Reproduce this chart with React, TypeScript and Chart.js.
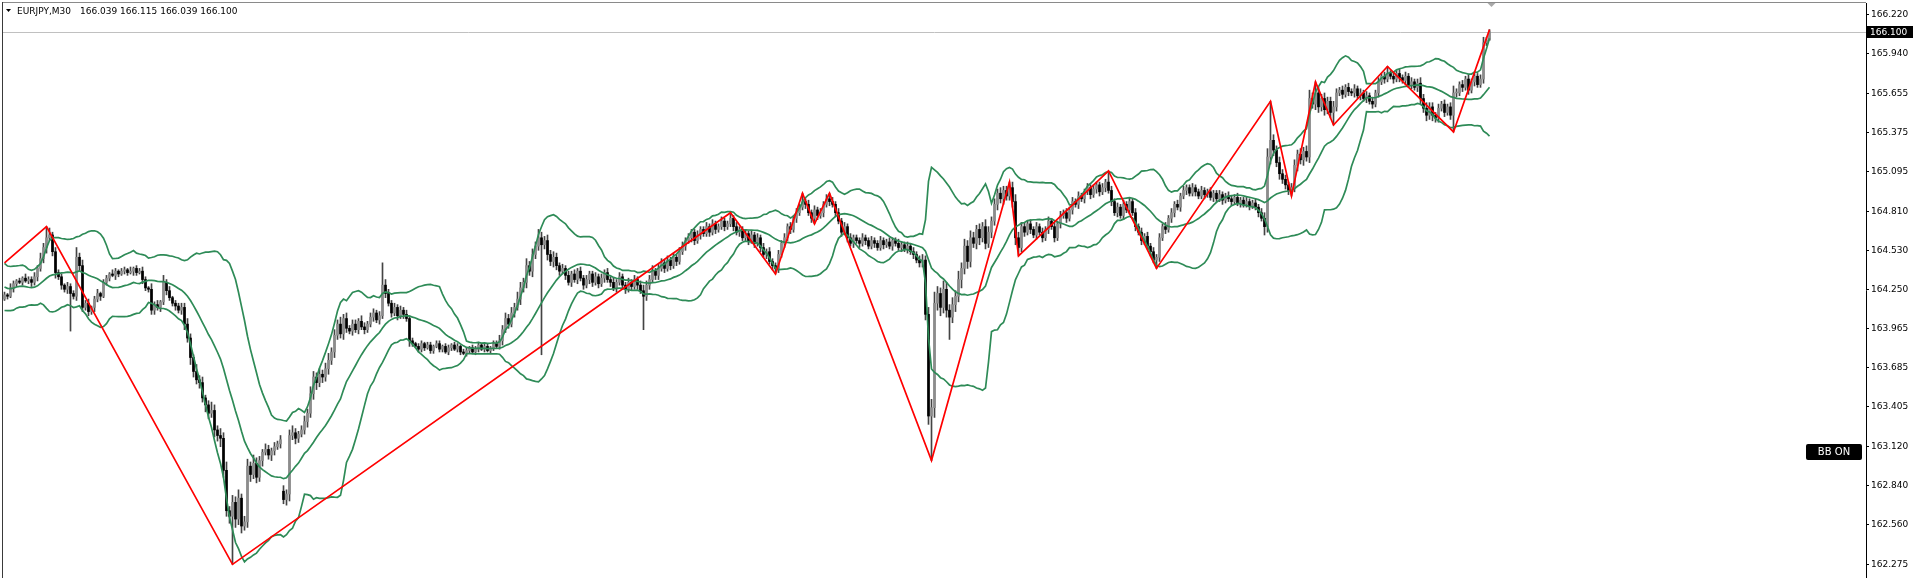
import { useEffect, useRef } from "react";
import { Chart, registerables } from "chart.js";

Chart.register(...registerables);

// ---------------- data ----------------
const SYMBOL = "EURJPY,M30";
const OHLC_TEXT = "166.039 166.115 166.039 166.100";
const LAST_PRICE = 166.1;
const BB_LABEL = "BB ON";

// closes before the first visible bar (only used for the Bollinger warm-up)
const HISTORY_CLOSES = [
  164.35, 164.4, 164.3, 164.22, 164.15, 164.2, 164.3, 164.38, 164.42, 164.35,
  164.28, 164.2, 164.12, 164.18, 164.25, 164.32, 164.36, 164.3, 164.22, 164.18,
];

// visible M30 closes, bar 0 .. 495
const CLOSES = [
  164.21, 164.2, 164.26, 164.29, 164.31, 164.3, 164.33, 164.31, 164.32, 164.3,
  164.34, 164.4, 164.47, 164.55, 164.62, 164.64, 164.52, 164.37, 164.34, 164.28,
  164.25, 164.27, 164.22, 164.2, 164.48, 164.42, 164.12, 164.15, 164.09, 164.12,
  164.18, 164.22, 164.2, 164.3, 164.33, 164.36, 164.35, 164.38, 164.36, 164.38,
  164.39, 164.37, 164.38, 164.4, 164.37, 164.38, 164.32, 164.26, 164.25, 164.1,
  164.14, 164.12, 164.16, 164.3, 164.24, 164.19, 164.15, 164.13, 164.1, 164.12,
  164.0, 163.9, 163.76, 163.66, 163.6, 163.58, 163.47, 163.42, 163.36, 163.38,
  163.24, 163.2, 163.18, 162.95, 162.66, 162.62, 162.72, 162.6, 162.75, 162.55,
  162.58, 162.98, 162.92, 163.0, 162.9, 163.02, 163.08, 163.1, 163.06, 163.09,
  163.12, 163.14, 163.17, 162.74, 162.78, 163.2, 163.22, 163.18, 163.21, 163.24,
  163.3, 163.36, 163.5, 163.62, 163.58, 163.64, 163.62, 163.68, 163.74, 163.8,
  163.92, 164.0, 163.93, 164.04, 163.97, 163.95, 164.0, 163.96, 164.02, 163.98,
  163.96, 164.0, 164.05, 164.08, 164.03, 164.06, 164.28, 164.22, 164.15, 164.08,
  164.12, 164.06, 164.1, 164.07, 164.04, 163.88, 163.86, 163.84, 163.82, 163.86,
  163.83, 163.85, 163.81, 163.84, 163.86, 163.82, 163.84, 163.8, 163.83, 163.85,
  163.82, 163.84, 163.8, 163.79, 163.81, 163.83, 163.8, 163.82, 163.85, 163.82,
  163.84, 163.81, 163.83, 163.86, 163.84, 163.88, 163.96, 164.04, 164.0, 164.08,
  164.12, 164.18, 164.26, 164.3, 164.42, 164.38, 164.5, 164.56, 164.62, 164.57,
  164.6, 164.5, 164.45, 164.48, 164.42, 164.38, 164.4, 164.35, 164.3, 164.36,
  164.32, 164.38, 164.33, 164.28, 164.32, 164.36, 164.3, 164.34, 164.29, 164.33,
  164.37, 164.32, 164.3, 164.26, 164.3, 164.34, 164.28, 164.25, 164.3, 164.27,
  164.32, 164.28, 164.24, 164.2, 164.28, 164.32, 164.38, 164.35, 164.4, 164.44,
  164.4, 164.46, 164.42, 164.48, 164.45, 164.52, 164.56, 164.6, 164.62, 164.66,
  164.6, 164.64, 164.68, 164.65, 164.7, 164.66, 164.72, 164.68, 164.7, 164.74,
  164.7, 164.72, 164.76, 164.7, 164.66, 164.68, 164.62, 164.65, 164.6, 164.64,
  164.58, 164.62, 164.55, 164.5, 164.52, 164.45, 164.42, 164.4, 164.5, 164.58,
  164.62, 164.7, 164.68, 164.76, 164.8, 164.84, 164.88, 164.86, 164.8, 164.76,
  164.82, 164.78, 164.8, 164.86, 164.9, 164.88, 164.86, 164.8, 164.74, 164.66,
  164.7, 164.62, 164.58, 164.62, 164.6, 164.58, 164.62, 164.6, 164.56, 164.6,
  164.58, 164.55, 164.6, 164.57, 164.59, 164.56, 164.6, 164.58, 164.55, 164.57,
  164.54, 164.56, 164.52, 164.5, 164.46, 164.44, 164.46, 164.07, 163.34, 163.4,
  164.15, 164.22, 164.12, 164.25, 164.1, 164.05, 164.14, 164.2, 164.32, 164.4,
  164.56, 164.45, 164.62, 164.58, 164.68, 164.62, 164.7, 164.58, 164.66, 164.74,
  164.86, 164.94, 164.9, 164.96, 164.92, 164.98, 164.88, 164.62, 164.55, 164.7,
  164.66, 164.72, 164.68, 164.64, 164.7, 164.66, 164.62, 164.68, 164.74, 164.7,
  164.62, 164.72, 164.78, 164.8, 164.76, 164.82, 164.88, 164.86, 164.92, 164.9,
  164.95, 164.98, 164.93, 164.97, 165.0, 164.95, 164.98, 165.02, 164.96, 164.88,
  164.8, 164.84, 164.78, 164.86, 164.82, 164.88, 164.8, 164.7, 164.66, 164.6,
  164.63, 164.56, 164.52, 164.46, 164.48, 164.62, 164.7, 164.68, 164.76, 164.8,
  164.86, 164.84, 164.92, 164.96, 164.98, 164.94, 164.98, 164.95, 164.92, 164.96,
  164.93, 164.95, 164.91, 164.94, 164.9, 164.93, 164.89, 164.92, 164.9, 164.88,
  164.91, 164.87, 164.89, 164.86, 164.88, 164.85, 164.87, 164.84, 164.8, 164.76,
  164.7, 165.2, 165.32, 165.25, 165.16, 165.08, 165.04, 165.0, 164.96, 164.98,
  165.14, 165.22, 165.18, 165.24, 165.2, 165.62, 165.58, 165.66, 165.56, 165.62,
  165.54, 165.6, 165.52, 165.56, 165.66, 165.68, 165.65, 165.7, 165.67, 165.66,
  165.69, 165.64, 165.66, 165.62, 165.64, 165.6, 165.58, 165.66, 165.74, 165.78,
  165.76, 165.8, 165.78, 165.76, 165.8, 165.77, 165.75, 165.78, 165.72, 165.74,
  165.7, 165.73, 165.62, 165.55, 165.5, 165.56, 165.5, 165.48, 165.55, 165.58,
  165.52, 165.56, 165.5, 165.66, 165.66, 165.72, 165.7, 165.76, 165.68, 165.74,
  165.78, 165.72, 165.76, 166.02, 166.04, 166.1,
];

// upper / lower shadow length of each bar, in 0.01
const WICK_HI = [
  2, 1, 3, 2, 1, 2, 1, 3, 2, 2, 3, 2, 4, 3, 0, 5, 2, 3, 2, 2,
  1, 3, 2, 2, 7, 3, 4, 2, 3, 1, 2, 3, 1, 2, 2, 1, 3, 2, 1, 2,
  2, 1, 3, 1, 2, 2, 3, 2, 1, 4, 2, 3, 1, 5, 2, 3, 1, 2, 2, 3,
  3, 4, 3, 2, 5, 3, 4, 2, 3, 6, 4, 3, 5, 4, 6, 3, 5, 4, 6, 3,
  4, 5, 3, 6, 4, 3, 2, 4, 3, 2, 3, 2, 3, 4, 3, 4, 5, 3, 2, 3,
  4, 3, 5, 4, 3, 4, 3, 4, 5, 3, 4, 3, 5, 3, 4, 2, 3, 3, 2, 4,
  3, 2, 3, 3, 2, 3, 0, 4, 3, 2, 3, 2, 3, 2, 3, 2, 2, 1, 2, 2,
  1, 2, 2, 1, 2, 2, 1, 2, 2, 1, 2, 2, 1, 2, 2, 1, 2, 2, 2, 1,
  2, 2, 1, 2, 2, 4, 3, 4, 3, 4, 3, 5, 4, 3, 5, 3, 4, 3, 6, 4,
  3, 4, 3, 4, 3, 2, 3, 2, 3, 2, 3, 2, 3, 2, 3, 2, 2, 3, 2, 3,
  2, 3, 2, 3, 2, 3, 2, 2, 3, 2, 3, 2, 3, 4, 3, 3, 4, 2, 3, 3,
  2, 3, 2, 3, 2, 3, 3, 2, 3, 2, 2, 3, 2, 2, 3, 2, 3, 2, 2, 3,
  2, 2, 0, 2, 3, 2, 2, 3, 2, 3, 2, 3, 2, 3, 2, 3, 2, 2, 3, 2,
  3, 2, 3, 2, 3, 2, 3, 2, 3, 2, 3, 2, 3, 2, 3, 2, 3, 2, 3, 2,
  3, 2, 3, 2, 2, 2, 3, 2, 2, 3, 2, 2, 3, 2, 2, 3, 2, 2, 3, 2,
  2, 3, 2, 3, 2, 3, 4, 3, 5, 6, 8, 5, 4, 6, 5, 4, 5, 4, 6, 4,
  5, 4, 5, 4, 3, 4, 3, 5, 4, 3, 4, 3, 4, 3, 3, 0, 4, 5, 4, 3,
  3, 2, 3, 2, 3, 2, 3, 2, 3, 2, 3, 2, 3, 2, 3, 2, 3, 2, 3, 2,
  2, 3, 2, 3, 2, 2, 3, 2, 0, 3, 2, 3, 2, 3, 2, 3, 2, 3, 2, 3,
  2, 3, 2, 3, 2, 3, 2, 3, 2, 3, 2, 3, 2, 3, 2, 2, 3, 2, 2, 3,
  2, 2, 3, 2, 2, 3, 2, 2, 3, 2, 2, 3, 2, 2, 3, 2, 2, 3, 2, 3,
  4, 6, 0, 4, 3, 4, 3, 3, 2, 3, 4, 3, 4, 3, 4, 6, 4, 0, 4, 3,
  4, 3, 3, 4, 3, 2, 3, 2, 3, 2, 3, 2, 3, 2, 3, 2, 3, 2, 3, 2,
  3, 0, 2, 3, 2, 3, 2, 3, 2, 3, 2, 3, 4, 3, 4, 3, 3, 2, 3, 2,
  3, 2, 3, 5, 3, 2, 3, 2, 3, 2, 3, 2, 3, 4, 2, 0,
];
const WICK_LO = [
  1, 2, 1, 3, 2, 1, 2, 1, 2, 3, 2, 3, 2, 3, 4, 2, 3, 4, 2, 3,
  2, 3, 0, 2, 3, 4, 3, 2, 3, 2, 3, 2, 3, 1, 2, 2, 1, 3, 2, 1,
  2, 2, 1, 3, 2, 1, 3, 2, 2, 3, 3, 2, 3, 2, 3, 2, 2, 3, 2, 3,
  4, 3, 5, 4, 3, 4, 3, 5, 4, 3, 5, 4, 6, 5, 4, 5, 0, 6, 4, 5,
  3, 4, 5, 3, 4, 3, 4, 2, 3, 4, 3, 2, 3, 3, 4, 5, 3, 4, 3, 2,
  3, 4, 3, 4, 5, 3, 4, 3, 4, 3, 4, 3, 3, 4, 3, 2, 3, 2, 3, 2,
  3, 2, 2, 3, 2, 3, 2, 3, 2, 3, 2, 3, 2, 3, 2, 4, 2, 1, 2, 2,
  2, 1, 2, 2, 1, 2, 2, 1, 2, 2, 1, 2, 2, 1, 2, 2, 1, 2, 2, 1,
  2, 1, 2, 2, 1, 2, 3, 2, 3, 2, 3, 2, 4, 3, 4, 3, 4, 3, 3, 0,
  3, 4, 3, 4, 3, 3, 2, 3, 2, 3, 2, 3, 2, 3, 2, 3, 3, 2, 3, 2,
  3, 2, 3, 2, 3, 2, 3, 3, 2, 3, 2, 3, 2, 0, 3, 3, 2, 3, 3, 2,
  3, 2, 3, 2, 3, 2, 2, 3, 2, 3, 3, 2, 3, 2, 2, 3, 2, 3, 2, 2,
  3, 2, 2, 3, 2, 3, 2, 2, 3, 2, 3, 2, 3, 2, 3, 2, 3, 0, 3, 2,
  3, 2, 3, 2, 3, 2, 2, 3, 2, 3, 2, 3, 2, 3, 2, 3, 2, 3, 2, 3,
  2, 3, 2, 3, 2, 3, 2, 3, 2, 2, 3, 2, 2, 3, 2, 2, 3, 2, 2, 3,
  2, 3, 2, 3, 2, 3, 3, 4, 6, 0, 7, 5, 6, 4, 5, 0, 4, 5, 4, 6,
  4, 5, 4, 3, 4, 5, 3, 4, 3, 4, 3, 4, 3, 4, 3, 3, 4, 5, 0, 3,
  3, 2, 3, 2, 3, 2, 3, 2, 3, 2, 3, 2, 3, 2, 3, 2, 3, 2, 3, 2,
  3, 2, 3, 2, 3, 3, 2, 3, 2, 3, 2, 3, 2, 3, 2, 3, 2, 3, 2, 3,
  3, 2, 3, 2, 0, 3, 2, 3, 2, 3, 3, 2, 3, 2, 3, 2, 2, 3, 2, 2,
  3, 2, 2, 3, 2, 2, 3, 2, 2, 3, 2, 2, 3, 2, 2, 3, 2, 2, 3, 2,
  0, 4, 5, 4, 3, 4, 3, 3, 3, 0, 3, 4, 3, 4, 3, 4, 3, 4, 4, 3,
  4, 3, 4, 0, 3, 2, 3, 2, 3, 2, 3, 2, 3, 2, 3, 2, 3, 2, 3, 2,
  3, 2, 2, 3, 2, 3, 2, 3, 2, 3, 2, 3, 4, 3, 4, 3, 4, 3, 3, 2,
  3, 2, 3, 0, 3, 2, 3, 2, 3, 2, 3, 2, 2, 3, 2, 0,
];

// bar opens that differ from the previous close (weekend gap)
const GAP_BARS = [93];
const GAP_OPENS = [162.8];

// bar extremes that are read directly (swing points / spikes)
const EXT_BARS = [14, 22, 76, 126, 179, 213, 242, 257, 266, 270, 275, 309, 315, 335, 338, 368, 384, 420, 422, 429, 437, 443, 461, 483, 495];
const EXT_HIGH = [164.7, null, null, 164.44, null, null, 164.8, null, 164.94, null, 164.94, null, null, 165.02, null, 165.1, null, null, 165.6, null, 165.74, null, 165.85, null, 166.115];
const EXT_LOW = [null, 163.95, 162.275, null, 163.78, 163.96, null, 164.36, null, 164.72, null, 163.02, 163.89, null, 164.49, null, 164.4, 164.64, null, 164.92, null, 165.43, null, 165.38, 166.039];

// ZigZag swing points
const ZZ_BARS = [0, 14, 76, 242, 257, 266, 270, 275, 309, 335, 338, 368, 384, 422, 429, 437, 443, 461, 483, 495];
const ZZ_PRICES = [164.44, 164.7, 162.275, 164.8, 164.36, 164.94, 164.72, 164.94, 163.02, 165.02, 164.49, 165.1, 164.4, 165.6, 164.92, 165.74, 165.43, 165.85, 165.38, 166.115];

// right price axis labels
const Y_TICKS = [166.22, 165.94, 165.655, 165.375, 165.095, 164.81, 164.53, 164.25, 163.965, 163.685, 163.405, 163.12, 162.84, 162.56, 162.275];

const BB_PERIOD = 20;
const BB_DEV = 2;

// ---------------- build ----------------
function buildSeries() {
  const all = [...HISTORY_CLOSES, ...CLOSES];
  const H = HISTORY_CLOSES.length;
  const wicks: any[] = [];
  const bull: any[] = [];
  const bear: any[] = [];
  for (let i = 0; i < CLOSES.length; i++) {
    const k = i + H;
    const g = GAP_BARS.indexOf(i);
    const open = g >= 0 ? GAP_OPENS[g] : all[k - 1];
    const close = CLOSES[i];
    let hi = Math.max(open, close) + WICK_HI[i] / 100;
    let lo = Math.min(open, close) - WICK_LO[i] / 100;
    const e = EXT_BARS.indexOf(i);
    if (e >= 0) {
      if (EXT_HIGH[e] != null) hi = EXT_HIGH[e] as number;
      if (EXT_LOW[e] != null) lo = EXT_LOW[e] as number;
    }
    wicks.push({ x: i, y: [lo, hi] });
    if (close >= open) bull.push({ x: i, y: [open, close] });
    else bear.push({ x: i, y: [close, open] });
  }
  const up: any[] = [];
  const mid: any[] = [];
  const dn: any[] = [];
  for (let i = 0; i < CLOSES.length; i++) {
    const k = i + H;
    const w = all.slice(k - BB_PERIOD + 1, k + 1);
    const m = w.reduce((a, b) => a + b, 0) / w.length;
    const sd = Math.sqrt(w.reduce((a, b) => a + (b - m) * (b - m), 0) / w.length);
    up.push({ x: i, y: m + BB_DEV * sd });
    mid.push({ x: i, y: m });
    dn.push({ x: i, y: m - BB_DEV * sd });
  }
  const zz = ZZ_BARS.map((b, j) => ({ x: b, y: ZZ_PRICES[j] }));
  return { wicks, bull, bear, up, mid, dn, zz };
}

const FONT = '"DejaVu Sans", "Liberation Sans", sans-serif';

const overlay = {
  id: "mt4overlay",
  beforeDatasetsDraw(chart: any) {
    const { ctx, chartArea, scales } = chart;
    const py = Math.round(scales.y.getPixelForValue(LAST_PRICE)) + 0.5;
    ctx.save();
    ctx.strokeStyle = "#c0c0c0";
    ctx.lineWidth = 1;
    ctx.beginPath();
    ctx.moveTo(chartArea.left, py);
    ctx.lineTo(chartArea.right, py);
    ctx.stroke();
    ctx.restore();
  },
  afterDraw(chart: any) {
    const { ctx, chartArea, scales } = chart;
    ctx.save();
    // window frame
    ctx.strokeStyle = "#8a8a8a";
    ctx.lineWidth = 1;
    ctx.beginPath();
    ctx.moveTo(2, 2.5);
    ctx.lineTo(chartArea.right, 2.5);
    ctx.stroke();
    ctx.strokeStyle = "#3a3a3a";
    ctx.beginPath();
    ctx.moveTo(2.5, 2);
    ctx.lineTo(2.5, 578);
    ctx.stroke();

    // header
    ctx.fillStyle = "#000";
    ctx.beginPath();
    ctx.moveTo(6, 9);
    ctx.lineTo(11, 9);
    ctx.lineTo(8.5, 12);
    ctx.closePath();
    ctx.fill();
    ctx.font = `9px ${FONT}`;
    ctx.textBaseline = "alphabetic";
    ctx.textAlign = "left";
    ctx.fillText(SYMBOL, 17, 14);
    ctx.fillText(OHLC_TEXT, 80, 14);

    // shift marker
    const sx = scales.x.getPixelForValue(CLOSES.length - 1) + 2;
    ctx.fillStyle = "#a8a8a8";
    ctx.beginPath();
    ctx.moveTo(sx - 4, 3);
    ctx.lineTo(sx + 4, 3);
    ctx.lineTo(sx, 7);
    ctx.closePath();
    ctx.fill();

    // last price box
    const py = scales.y.getPixelForValue(LAST_PRICE);
    ctx.fillStyle = "#000";
    ctx.fillRect(chartArea.right + 1, Math.round(py) - 6, 46, 12);
    ctx.fillStyle = "#fff";
    ctx.textBaseline = "middle";
    ctx.fillText(LAST_PRICE.toFixed(3), chartArea.right + 4, Math.round(py) + 0.5);

    // BB ON label
    ctx.fillStyle = "#000";
    ctx.beginPath();
    (ctx as any).roundRect(1806, 444, 56, 16, 2);
    ctx.fill();
    ctx.fillStyle = "#fff";
    ctx.font = `10px ${FONT}`;
    ctx.textAlign = "center";
    ctx.textBaseline = "middle";
    ctx.fillText(BB_LABEL, 1834, 452.5);
    ctx.restore();
  },
};

export default function App() {
  const ref = useRef<HTMLCanvasElement | null>(null);
  useEffect(() => {
    if (!ref.current) return;
    const s = buildSeries();
    const green = "#2e8b57";
    const lineBase = {
      type: "line" as const,
      borderColor: green,
      borderWidth: 1.7,
      pointRadius: 0,
      tension: 0,
      fill: false,
      order: 1,
    };
    const chart = new Chart(ref.current, {
      type: "bar",
      data: {
        datasets: [
          { ...lineBase, type: "line", label: "zigzag", data: s.zz, borderColor: "#ff0000", borderWidth: 1.7, order: 0 } as any,
          { ...lineBase, label: "bb upper", data: s.up } as any,
          { ...lineBase, label: "bb middle", data: s.mid } as any,
          { ...lineBase, label: "bb lower", data: s.dn } as any,
          { type: "bar", label: "bull", data: s.bull, backgroundColor: "#8c8c8c", borderWidth: 0, barThickness: 2, grouped: false, minBarLength: 1, order: 2 } as any,
          { type: "bar", label: "bear", data: s.bear, backgroundColor: "#000000", borderWidth: 0, barThickness: 2, grouped: false, minBarLength: 1, order: 2 } as any,
          { type: "bar", label: "wick", data: s.wicks, backgroundColor: "#444444", borderWidth: 0, barThickness: 1, grouped: false, minBarLength: 1, order: 3 } as any,
        ],
      },
      options: {
        responsive: false,
        animation: false,
        devicePixelRatio: 1,
        events: [],
        layout: { padding: { left: 3, top: 3, right: 0, bottom: 1 } },
        plugins: { legend: { display: false }, tooltip: { enabled: false } },
        scales: {
          x: {
            type: "linear",
            min: -0.5,
            max: 620.5,
            offset: false,
            display: false,
            grid: { display: false },
          },
          y: {
            type: "linear",
            position: "right",
            min: 162.184,
            max: 166.306,
            beginAtZero: false,
            afterBuildTicks: (sc: any) => {
              sc.ticks = Y_TICKS.map((v) => ({ value: v }));
            },
            afterFit: (sc: any) => {
              sc.width = 51;
              sc.paddingTop = 0;
              sc.paddingBottom = 0;
            },
            ticks: {
              autoSkip: false,
              padding: 2,
              color: "#000",
              font: { family: FONT, size: 9 },
              callback: (v: any) => Number(v).toFixed(3),
            },
            grid: { drawOnChartArea: false, drawTicks: true, tickLength: 3, color: "#000" },
            border: { display: true, color: "#000", width: 1 },
          },
        },
      } as any,
      plugins: [overlay],
    });
    return () => chart.destroy();
  }, []);
  return (
    <div style={{ position: "absolute", left: 0, top: 0, width: 1917, height: 578, background: "#fff" }}>
      <canvas ref={ref} width={1917} height={578} style={{ display: "block", width: 1917, height: 578 }} />
    </div>
  );
}
